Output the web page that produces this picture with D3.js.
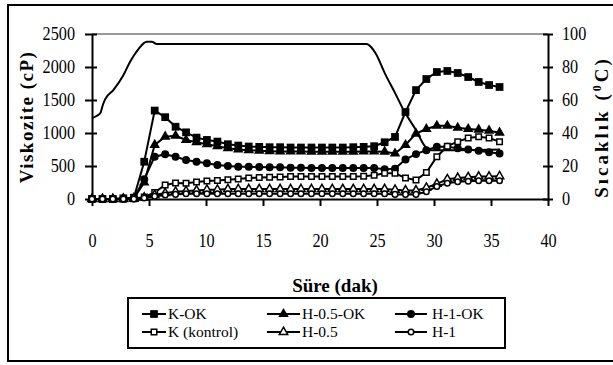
<!DOCTYPE html>
<html><head><meta charset="utf-8">
<script src="https://cdn.jsdelivr.net/npm/d3@7"></script>
<style>
html,body{margin:0;padding:0;background:#fff;overflow:hidden}
svg{display:block}
text{font-family:"Liberation Serif","Times New Roman",serif;fill:#000}
</style></head><body>
<svg id="c" width="613" height="365"></svg>
<script>
// ---- data ----
const times = [0, 0.92, 1.83, 2.75, 3.67, 4.58, 5.5, 6.42, 7.33, 8.25, 9.17, 10.08, 11, 11.92, 12.83, 13.75, 14.67, 15.58, 16.5, 17.42, 18.33, 19.25, 20.17, 21.08, 22, 22.92, 23.83, 24.75, 25.67, 26.58, 27.5, 28.42, 29.33, 30.25, 31.17, 32.08, 33, 33.92, 34.83, 35.75];
const kOK      = [0,0,0,10,20,565,1340,1240,1095,1010,930,895,870,830,810,795,790,785,785,780,780,780,780,780,780,785,790,800,860,940,1318,1650,1818,1924,1940,1909,1848,1773,1727,1697];
const h05OK    = [0,0,0,5,10,250,820,944,959,894,860,830,800,770,750,740,730,725,720,720,720,715,715,715,715,715,720,720,717,690,818,990,1060,1110,1110,1080,1060,1050,1035,1005];
const h1OK     = [0,0,0,5,10,300,641,677,641,591,565,541,515,500,489,489,485,480,480,475,475,470,470,470,470,470,470,470,450,460,600,680,740,790,790,770,750,730,710,690];
const kKontrol = [0,0,0,0,5,30,100,212,242,240,258,273,280,290,303,318,325,330,335,340,340,340,340,340,340,340,345,360,390,390,318,288,400,641,800,869,924,944,924,869];
const h05      = [0,0,0,0,5,20,60,90,110,120,130,140,140,150,150,150,150,150,150,150,150,150,150,150,150,150,150,150,150,140,130,130,170,230,300,320,330,340,340,345];
const h1       = [0,0,0,0,0,15,40,60,70,80,80,80,80,80,80,80,80,80,80,80,80,80,80,80,80,80,80,80,80,70,70,70,110,190,240,260,270,275,275,275];
const tempTimes  = [0, 0.4, 0.75, 0.95, 1.15, 1.87, 2.75, 3.33, 4.06, 4.8, 5.24, 5.68, 24.1, 24.5, 24.9, 25.7, 26.6, 27.4, 28.4, 29.2, 29.8, 30.5, 35.8];
const tempValues = [49, 50.3, 52.3, 57, 60.4, 66, 75, 83, 90.7, 95.3, 95.3, 94, 94, 92, 88, 76, 64, 53, 42, 32, 29.5, 29.5, 30];
const seriesNames = ["K-OK", "H-0.5-OK", "H-1-OK", "K (kontrol)", "H-0.5", "H-1"];
const xTicks  = [0, 5, 10, 15, 20, 25, 30, 35, 40];
const yTicks  = [0, 500, 1000, 1500, 2000, 2500];
const y2Ticks = [0, 20, 40, 60, 80, 100];
const xTitle = "Süre (dak)";
const yTitle = "Viskozite (cP)";
const y2TitleA = "Sıcaklık (", y2TitleSup = "0", y2TitleB = "C)";

// ---- styles ----
const seriesValues = [kOK, h05OK, h1OK, kKontrol, h05, h1];
const markerStyles = [
  {sym: d3.symbolSquare,   size: 60, fill: "#000", sw: 0},
  {sym: d3.symbolTriangle, size: 48, fill: "#000", sw: 0},
  {sym: d3.symbolCircle,   size: 50, fill: "#000", sw: 0},
  {sym: d3.symbolSquare,   size: 30, fill: "#fff", sw: 1.5},
  {sym: d3.symbolTriangle, size: 30, fill: "#fff", sw: 1.5},
  {sym: d3.symbolCircle,   size: 24, fill: "#fff", sw: 1.5}
];

const svg = d3.select("#c");
const x  = d3.scaleLinear().domain([0, 40]).range([92, 548]);
const y  = d3.scaleLinear().domain([0, 2500]).range([199, 34]);
const y2 = d3.scaleLinear().domain([0, 100]).range([199, 34]);
const fmt = d3.format("d");

function condense(sel, f) {
  sel.each(function () {
    const w = this.getComputedTextLength();
    d3.select(this).attr("textLength", w * f).attr("lengthAdjust", "spacingAndGlyphs");
  });
}

// outer frame
svg.append("rect").attr("x", 8).attr("y", 5).attr("width", 640).attr("height", 356)
  .attr("fill", "none").attr("stroke", "#000").attr("stroke-width", 2);

// top border of plot (gray)
svg.append("line").attr("x1", x(0)).attr("x2", x(40)).attr("y1", y(2500)).attr("y2", y(2500))
  .attr("stroke", "#999").attr("stroke-width", 2);

// left axis
svg.append("g").attr("transform", `translate(${x(0)},0)`)
  .call(d3.axisLeft(y).tickValues(yTicks).tickFormat(fmt).tickSizeInner(7).tickSizeOuter(0).tickPadding(10));
svg.append("g").attr("transform", `translate(${x(0)},0)`)
  .call(d3.axisRight(y).tickValues(yTicks).tickSize(5).tickFormat(""))
  .select(".domain").remove();
// right axis
svg.append("g").attr("transform", `translate(${x(40)},0)`)
  .call(d3.axisRight(y2).tickValues(y2Ticks).tickFormat(fmt).tickSizeInner(5).tickSizeOuter(0).tickPadding(9));
svg.append("g").attr("transform", `translate(${x(40)},0)`)
  .call(d3.axisLeft(y2).tickValues(y2Ticks).tickSize(5).tickFormat(""))
  .select(".domain").remove();
// bottom axis
svg.append("g").attr("transform", `translate(0,${y(0)})`)
  .call(d3.axisBottom(x).tickValues(xTicks).tickFormat(fmt).tickSizeInner(7).tickSizeOuter(0).tickPadding(28));

svg.selectAll(".domain").attr("stroke", "#000").attr("stroke-width", 2);
svg.selectAll(".tick line").attr("stroke", "#000").attr("stroke-width", 2);
svg.selectAll(".tick text").attr("font-size", 18).attr("font-family", '"Liberation Serif",serif').attr("fill", "#000");
condense(svg.selectAll(".tick text").filter(function () { return this.textContent !== ""; }), 0.9);

// axis titles
svg.append("text").attr("transform", "translate(33,117) rotate(-90)")
  .attr("text-anchor", "middle").attr("font-size", 19).attr("font-weight", "bold")
  .attr("letter-spacing", 1.5).text(yTitle);

const t2 = svg.append("text").attr("transform", "translate(608,127) rotate(-90)")
  .attr("text-anchor", "middle").attr("font-size", 19).attr("font-weight", "bold")
  .attr("letter-spacing", 3);
t2.append("tspan").text(y2TitleA);
t2.append("tspan").attr("font-size", 12).attr("dy", -7).text(y2TitleSup);
t2.append("tspan").attr("dy", 7).text(y2TitleB);

svg.append("text").attr("x", 335).attr("y", 292).attr("text-anchor", "middle")
  .attr("font-size", 19).attr("font-weight", "bold").text(xTitle);

// series
const line = d3.line().x((d, i) => x(times[i])).y(d => y(d));
seriesValues.forEach((vals, k) => {
  const st = markerStyles[k];
  svg.append("path").datum(vals).attr("d", line)
    .attr("fill", "none").attr("stroke", "#000").attr("stroke-width", 2);
  svg.append("g").selectAll("path").data(vals).join("path")
    .attr("transform", (d, i) => `translate(${x(times[i])},${y(d)})`)
    .attr("d", d3.symbol().type(st.sym).size(st.size))
    .attr("fill", st.fill).attr("stroke", "#000").attr("stroke-width", st.sw);
});

// temperature (secondary axis)
const tline = d3.line().x((d, i) => x(tempTimes[i])).y(d => y2(d)).curve(d3.curveMonotoneX);
svg.append("path").datum(tempValues).attr("d", tline)
  .attr("fill", "none").attr("stroke", "#000").attr("stroke-width", 2);

// legend
svg.append("rect").attr("x", 128).attr("y", 298).attr("width", 377).attr("height", 50)
  .attr("fill", "none").attr("stroke", "#000").attr("stroke-width", 2);
const legCols = [[142, 166, 168], [267, 300, 302], [395, 427, 432]];
const legRows = [314, 332];
seriesNames.forEach((name, k) => {
  const c = legCols[k % 3], r = legRows[Math.floor(k / 3)];
  const st = markerStyles[k];
  svg.append("line").attr("x1", c[0]).attr("x2", c[1]).attr("y1", r).attr("y2", r)
    .attr("stroke", "#000").attr("stroke-width", 2);
  svg.append("path").attr("transform", `translate(${(c[0] + c[1]) / 2},${r})`)
    .attr("d", d3.symbol().type(st.sym).size(st.size))
    .attr("fill", st.fill).attr("stroke", "#000").attr("stroke-width", st.sw);
  svg.append("text").attr("x", c[2]).attr("y", r + 5).attr("font-size", 15.5).text(name);
});
</script>
</body></html>
